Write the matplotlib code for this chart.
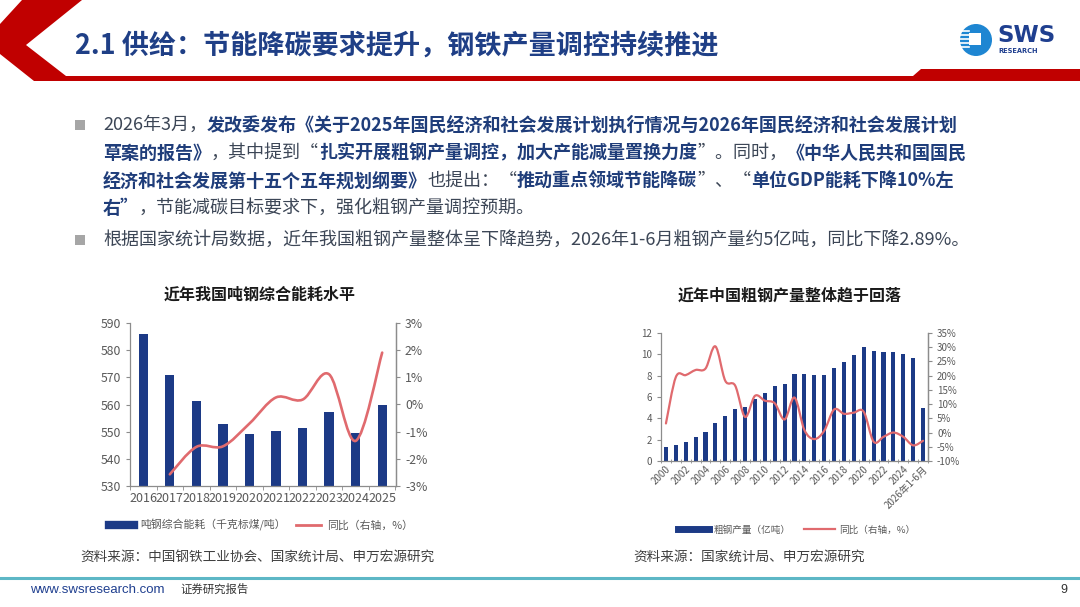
import numpy as np
import matplotlib
matplotlib.use("Agg")
import matplotlib.pyplot as plt
from matplotlib.path import Path
from matplotlib.patches import PathPatch, Polygon, Rectangle, Circle
from matplotlib.lines import Line2D

plt.rcParams['font.family'] = ['Noto Sans CJK SC', 'DejaVu Sans']
FAM = ['Noto Sans CJK SC', 'DejaVu Sans']

# ---------------- data ----------------
left_years = ['2016', '2017', '2018', '2019', '2020', '2021', '2022', '2023', '2024', '2025']
left_energy = [585.9, 570.7, 561.4, 552.9, 549.2, 550.3, 551.3, 557.2, 549.5, 560.0]
left_yoy_years = ['2017', '2018', '2019', '2020', '2021', '2022', '2023', '2024', '2025']
left_yoy = [-2.57, -1.56, -1.54, -0.70, 0.26, 0.18, 1.11, -1.34, 1.91]

right_cats = ['2000', '2001', '2002', '2003', '2004', '2005', '2006', '2007', '2008', '2009',
              '2010', '2011', '2012', '2013', '2014', '2015', '2016', '2017', '2018', '2019',
              '2020', '2021', '2022', '2023', '2024', '2025', '2026年1-6月']
right_output = [1.29, 1.51, 1.82, 2.22, 2.75, 3.55, 4.2, 4.9, 5.05, 5.8,
                6.35, 7.0, 7.25, 8.2, 8.2, 8.08, 8.1, 8.7, 9.3, 9.95,
                10.65, 10.35, 10.18, 10.19, 10.05, 9.62, 5.0]
right_yoy = [3.2, 19.5, 20.2, 22.0, 22.5, 30.3, 18.2, 16.5, 5.5, 12.9,
             11.2, 10.3, 4.6, 12.3, 0.9, -2.3, 0.6, 8.1, 6.6, 7.0,
             7.3, -3.2, -1.5, 0.0, -1.5, -4.5, -2.89]
right_label_cats = ['2000', '2002', '2004', '2006', '2008', '2010', '2012', '2014', '2016',
                    '2018', '2020', '2022', '2024', '2026年1-6月']

left_yticks = [530, 540, 550, 560, 570, 580, 590]
left_y2ticks = [-3, -2, -1, 0, 1, 2, 3]
right_yticks = [0, 2, 4, 6, 8, 10, 12]
right_y2ticks = [-10, -5, 0, 5, 10, 15, 20, 25, 30, 35]

title = '2.1 供给：节能降碳要求提升，钢铁产量调控持续推进'
chart1_title = '近年我国吨钢综合能耗水平'
chart2_title = '近年中国粗钢产量整体趋于回落'
legend1 = ['吨钢综合能耗（千克标煤/吨）', '同比（右轴，%）']
legend2 = ['粗钢产量（亿吨）', '同比（右轴，%）']
source1 = '资料来源：中国钢铁工业协会、国家统计局、申万宏源研究'
source2 = '资料来源：国家统计局、申万宏源研究'

para1 = [
    [('2026年3月，', False), ('发改委发布《关于2025年国民经济和社会发展计划执行情况与2026年国民经济和社会发展计划', True)],
    [('草案的报告》', True), ('，其中提到“', False), ('扎实开展粗钢产量调控，加大产能减量置换力度', True),
     ('”。同时，', False), ('《中华人民共和国国民', True)],
    [('经济和社会发展第十五个五年规划纲要》', True), ('也提出：“', False), ('推动重点领域节能降碳', True),
     ('”、“', False), ('单位GDP能耗下降10%左', True)],
    [('右”', True), ('，节能减碳目标要求下，强化粗钢产量调控预期。', False)],
]
para2 = [[('根据国家统计局数据，近年我国粗钢产量整体呈下降趋势，2026年1-6月粗钢产量约5亿吨，同比下降2.89%。', False)]]

# ---------------- colours ----------------
NAVY = '#1C3A86'
SALMON = '#E06A6E'
RED = '#C00000'
TITLE_BLUE = '#1F3F86'
BOLD_BLUE = '#1F3D7A'
TEXT_GRAY = '#3C4656'
AXIS_GRAY = '#8C8C8C'
TICK_GRAY = '#595959'

W, H = 1080, 607
fig = plt.figure(figsize=(W / 100, H / 100), dpi=100)
fig.patch.set_facecolor('white')

# overlay axes in pixel coordinates
ov = fig.add_axes([0, 0, 1, 1], zorder=0)
ov.set_xlim(0, W)
ov.set_ylim(H, 0)
ov.axis('off')

# header red chevron + bar
ov.add_patch(Polygon([(22, 0), (82, 0), (26, 45), (66, 76), (913, 76), (921, 69), (1080, 69),
                      (1080, 81), (34, 81), (0, 54), (0, 24)], closed=True,
                     facecolor=RED, edgecolor='none'))
ov.text(75, 46, title, fontsize=19.5, color=TITLE_BLUE, va='center', ha='left',
        family=FAM, fontweight='bold')

# logo
ov.add_patch(Circle((976, 40), 16, facecolor='#1E86D2', edgecolor='none'))
ov.add_patch(Rectangle((969, 33), 12, 12, facecolor='white', edgecolor='none'))
for dy in (-9, -5, -1, 3, 7):
    ov.add_line(Line2D([960, 969], [40 + dy, 40 + dy], color='white', lw=1.2))
ov.text(997, 36, 'SWS', fontsize=16.5, fontweight='bold', color='#1F3F8F', va='center', ha='left',
        family=['DejaVu Sans'])
ov.text(998, 51, 'RESEARCH', fontsize=4.8, fontweight='bold', color='#1F3F8F', va='center', ha='left',
        family=['DejaVu Sans'])

renderer = fig.canvas.get_renderer()


def draw_runs(x0, y, segs, size=13.0):
    x = x0
    for s, bold in segs:
        t = ov.text(x, y, s, fontsize=size, fontweight='bold' if bold else 'normal',
                    color=BOLD_BLUE if bold else TEXT_GRAY, va='center', ha='left', family=FAM)
        bb = t.get_window_extent(renderer)
        x += bb.width


# bullets
for by in (125, 240):
    ov.add_patch(Rectangle((75, by - 5), 10, 10, facecolor='#A6A6A6', edgecolor='none'))
line_ys = [125, 153, 181, 208]
for segs, ly in zip(para1, line_ys):
    draw_runs(103, ly, segs)
draw_runs(103, 240, para2[0])

# chart titles and sources
ov.text(260, 295, chart1_title, fontsize=11.5, fontweight='bold', color='#1A1A1A', ha='center', va='center')
ov.text(790, 296, chart2_title, fontsize=11.5, fontweight='bold', color='#1A1A1A', ha='center', va='center')
ov.text(80, 557, source1, fontsize=9.8, color='#404040', ha='left', va='center')
ov.text(633, 557, source2, fontsize=9.8, color='#404040', ha='left', va='center')

# footer
ov.add_line(Line2D([0, W], [578, 578], color='#5DB7C6', lw=2.2))
ov.text(30, 590, 'www.swsresearch.com', fontsize=9.5, color='#1F3F8F', ha='left', va='center',
        family=['Liberation Sans Narrow', 'Liberation Sans', 'DejaVu Sans'])
ov.text(180, 589, '证券研究报告', fontsize=8.2, color='#333333', ha='left', va='center')
ov.text(1064, 590, '9', fontsize=9, color='#333333', ha='center', va='center',
        family=['Liberation Sans', 'DejaVu Sans'])


def smooth_line(ax, xs, ys, **kw):
    xs = np.asarray(xs, float)
    ys = np.asarray(ys, float)
    n = len(xs)
    verts = [(xs[0], ys[0])]
    codes = [Path.MOVETO]
    t = 1 / 6
    for i in range(n - 1):
        p0 = (xs[i - 1], ys[i - 1]) if i > 0 else (xs[i], ys[i])
        p1 = (xs[i], ys[i])
        p2 = (xs[i + 1], ys[i + 1])
        p3 = (xs[i + 2], ys[i + 2]) if i + 2 < n else p2
        c1 = (p1[0] + (p2[0] - p0[0]) * t, p1[1] + (p2[1] - p0[1]) * t)
        c2 = (p2[0] - (p3[0] - p1[0]) * t, p2[1] - (p3[1] - p1[1]) * t)
        verts += [c1, c2, p2]
        codes += [Path.CURVE4] * 3
    ax.add_patch(PathPatch(Path(verts, codes), fill=False, capstyle='round', joinstyle='round', **kw))


def style_axes(ax, ax2, lsize):
    for a in (ax, ax2):
        a.set_facecolor('none')
        a.spines['top'].set_visible(False)
        for s in ('left', 'right', 'bottom'):
            a.spines[s].set_color(AXIS_GRAY)
            a.spines[s].set_linewidth(0.9)
        a.tick_params(colors=AXIS_GRAY, labelcolor=TICK_GRAY, labelsize=lsize, width=0.8, length=3)
    ax2.spines['left'].set_visible(False)
    ax2.spines['bottom'].set_visible(False)


# ---------------- left chart ----------------
axL = fig.add_axes([130 / W, 1 - 486 / H, 266 / W, 163 / H], zorder=2)
axL2 = axL.twinx()
xl = np.arange(len(left_years))
axL.bar(xl, np.array(left_energy) - 530, bottom=530, width=0.35, color=NAVY, zorder=2)
axL.set_ylim(530, 590)
axL.set_yticks(left_yticks)
axL.set_xlim(-0.45, len(left_years) - 0.48)
axL.set_xticks(xl)
axL.set_xticklabels(left_years)
axL.set_xticks(np.arange(len(left_years) + 1) - 0.5, minor=True)
xy = [left_years.index(y) for y in left_yoy_years]
axL2.set_ylim(-3, 3)
axL2.set_yticks(left_y2ticks)
axL2.set_yticklabels([f'{v}%' for v in left_y2ticks])
smooth_line(axL2, xy, left_yoy, edgecolor=SALMON, lw=1.9, zorder=3)
style_axes(axL, axL2, 8.8)
axL.tick_params(axis='x', which='major', length=0, labelsize=9.0, pad=4)
axL.tick_params(axis='x', which='minor', length=3, color=AXIS_GRAY)

hL = [Line2D([], [], color=NAVY, lw=6), Line2D([], [], color=SALMON, lw=2)]
fig.legend(hL, legend1, loc='center', bbox_to_anchor=(261 / W, 1 - 525 / H), ncol=2, frameon=False,
           fontsize=7.8, handlelength=2.3, columnspacing=0.9, handletextpad=0.6, labelcolor=TICK_GRAY)

# ---------------- right chart ----------------
axR = fig.add_axes([661 / W, 1 - 461 / H, 267 / W, 128 / H], zorder=2)
axR2 = axR.twinx()
xr = np.arange(len(right_cats))
axR.bar(xr, right_output, width=0.42, color=NAVY, zorder=2)
axR.set_ylim(0, 12)
axR.set_yticks(right_yticks)
axR.set_xlim(-0.5, len(right_cats) - 0.5)
lab_pos = [right_cats.index(c) for c in right_label_cats]
axR.set_xticks(lab_pos)
axR.set_xticklabels(right_label_cats, rotation=45, ha='right', rotation_mode='anchor')
axR.set_xticks(np.arange(len(right_cats) + 1) - 0.5, minor=True)
axR2.set_ylim(-10, 35)
axR2.set_yticks(right_y2ticks)
axR2.set_yticklabels([f'{v}%' for v in right_y2ticks])
smooth_line(axR2, xr, right_yoy, edgecolor=SALMON, lw=1.6, zorder=3)
style_axes(axR, axR2, 7)
axR.tick_params(axis='x', which='major', length=0, labelsize=7.0, pad=2)
axR.tick_params(axis='x', which='minor', length=3, direction='inout', color=AXIS_GRAY)

hR = [Line2D([], [], color=NAVY, lw=5), Line2D([], [], color=SALMON, lw=1.6)]
fig.legend(hR, legend2, loc='center', bbox_to_anchor=(797 / W, 1 - 530 / H), ncol=2, frameon=False,
           fontsize=6.9, handlelength=3.2, columnspacing=1.4, handletextpad=0.5, labelcolor=TICK_GRAY)

fig.savefig('out.png', dpi=100)
